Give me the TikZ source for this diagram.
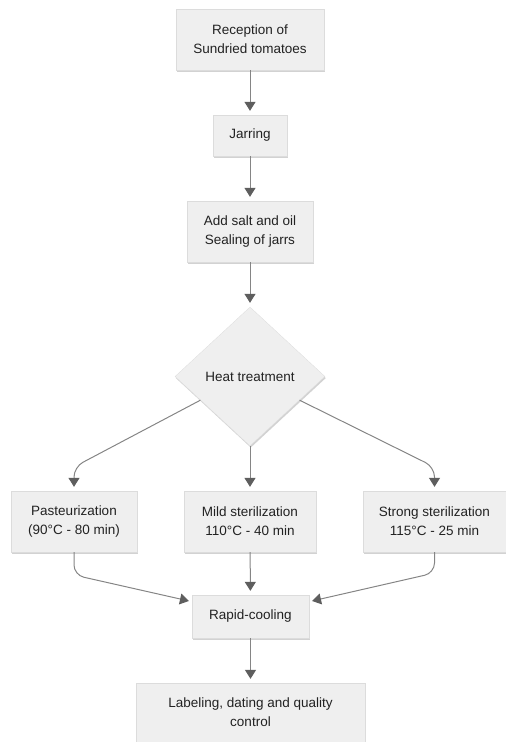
\documentclass[tikz,border=0pt]{standalone}
\usepackage{fontspec}
\setmainfont{Liberation Sans}
\usetikzlibrary{shapes.geometric,arrows.meta,calc,shadows}
\definecolor{boxfill}{HTML}{EFEFEF}
\definecolor{boxshadow}{HTML}{D2D2D2}
\definecolor{linec}{HTML}{858585}
\definecolor{headc}{HTML}{5E5E5E}
\definecolor{textc}{HTML}{222222}
\begin{document}
\begin{tikzpicture}[x=1pt,y=-1pt,
  every node/.style={font=\fontsize{13.5}{19}\selectfont, text=textc, align=center, inner sep=0pt},
  procbox/.style={rectangle, fill=boxfill, draw=boxfill!92!black, line width=0.3pt,
    drop shadow={shadow xshift=0.8pt, shadow yshift=-1.6pt, fill=boxshadow, opacity=1}},
  decbox/.style={diamond, fill=boxfill, draw=boxfill!92!black, line width=0.3pt,
    minimum width=150pt, minimum height=139pt,
    drop shadow={shadow xshift=0.8pt, shadow yshift=-1.6pt, fill=boxshadow, opacity=1}},
  flow/.style={draw=linec, line width=1pt, shorten >=4pt,
    -{Triangle[width=11pt,length=9pt,color=headc]}},
  bentflow/.style={flow, rounded corners=10pt}
]
\useasboundingbox (0,0) rectangle (506,742);

\node[procbox, minimum width=148pt, minimum height=61pt] (rec) at (250,39.5) {Reception of\\Sundried tomatoes};
\node[procbox, minimum width=74pt, minimum height=41pt] (jar) at (250,135.5) {Jarring};
\node[procbox, minimum width=126pt, minimum height=61pt] (salt) at (250,231.5) {Add salt and oil\\Sealing of jarrs};
\node[decbox] (dia) at (250,376.5) {Heat treatment};
\node[procbox, minimum width=126pt, minimum height=61pt] (past) at (74,521.5) {Pasteurization\\(90°C - 80 min)};
\node[procbox, minimum width=132pt, minimum height=61pt] (mild) at (250,521.5) {Mild sterilization\\110°C - 40 min};
\node[procbox, minimum width=143pt, minimum height=61pt] (strong) at (434.5,521.5) {Strong sterilization\\115°C - 25 min};
\node[procbox, minimum width=117pt, minimum height=43pt] (rapid) at (250.5,616.5) {Rapid-cooling};
\node[procbox, minimum width=229pt, minimum height=59pt] (lab) at (250.5,712.5) {Labeling, dating and quality\\control};

\draw[flow] (rec) -- (jar);
\draw[flow] (jar) -- (salt);
\draw[flow] (salt) -- (dia);
\draw[flow] (dia) -- (mild);

\coordinate (dl) at ($(dia.west)!0.34!(dia.south)$);
\coordinate (dr) at ($(dia.east)!0.34!(dia.south)$);
\coordinate (cl) at (74,467);
\coordinate (cr) at (434.5,467);
\draw[bentflow] (dl) -- (cl) -- (past.north);
\draw[bentflow] (dr) -- (cr) -- (strong.north);

\coordinate (rl) at ($(rapid.north west)+(1,7)$);
\coordinate (rr) at ($(rapid.north east)+(-1,7)$);
\coordinate (bl) at (74,575);
\coordinate (br) at (434.5,573);
\draw[bentflow] (past.south) -- (bl) -- (rl);
\draw[bentflow] (strong.south) -- (br) -- (rr);
\draw[flow] (mild) -- (rapid);
\draw[flow] (rapid) -- (lab);
\end{tikzpicture}
\end{document}
